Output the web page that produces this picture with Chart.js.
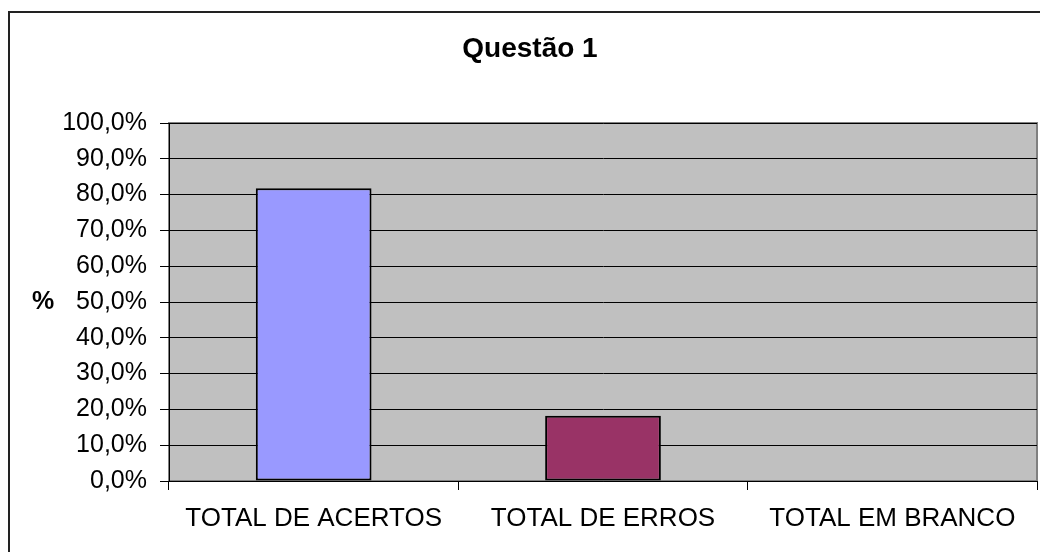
<!DOCTYPE html>
<html>
<head>
<meta charset="utf-8">
<title>Questão 1</title>
<script src="https://cdn.jsdelivr.net/npm/chart.js@4/dist/chart.umd.min.js"></script>
<style>
  html, body { margin: 0; padding: 0; background: #ffffff; }
  #wrap { position: relative; width: 1040px; height: 552px; overflow: hidden; }
  #frame { position: absolute; left: 8px; top: 11px; width: 1100px; height: 600px;
           border-left: 2px solid #222; border-top: 2px solid #222; }
  #chart { position: absolute; left: 0; top: 0; }
</style>
</head>
<body>
<div id="wrap">
  <div id="frame"></div>
  <canvas id="chart" width="1040" height="552"></canvas>
</div>
<script>
const chartTitle = 'Questão 1';
const axisLabel = '%';
const categories = ['TOTAL DE ACERTOS', 'TOTAL DE ERROS', 'TOTAL EM BRANCO'];
const percentages = [81.8, 18.2, 0];
const barColors = ['#9999FF', '#993366', '#FFFFCC'];
const yTicks = [0, 10, 20, 30, 40, 50, 60, 70, 80, 90, 100];

const FONT = "'Liberation Sans', Arial, sans-serif";

// Grey plot background with a thin darker frame; title and the horizontal "%" label
const plotDecor = {
  id: 'plotDecor',
  beforeDraw(chart) {
    const { ctx, chartArea: a } = chart;
    ctx.save();
    ctx.fillStyle = '#C0C0C0';
    ctx.fillRect(a.left, a.top, a.right - a.left, a.bottom - a.top);
    ctx.strokeStyle = '#808080';
    ctx.lineWidth = 2;
    ctx.strokeRect(a.left, a.top, a.right - a.left, a.bottom - a.top);
    ctx.restore();
  },
  afterDraw(chart) {
    const { ctx, chartArea: a } = chart;
    ctx.save();
    ctx.fillStyle = '#000';
    ctx.textAlign = 'center';
    ctx.textBaseline = 'middle';
    ctx.font = 'bold 28px ' + FONT;
    ctx.fillText(chartTitle, 530, 49);
    ctx.font = 'bold 25px ' + FONT;
    ctx.fillText(axisLabel, 43, (a.top + a.bottom) / 2);
    ctx.restore();
  }
};

new Chart(document.getElementById('chart'), {
  type: 'bar',
  data: {
    labels: categories,
    datasets: [{
      data: percentages,
      backgroundColor: barColors,
      borderColor: '#000',
      borderWidth: 2,
      borderSkipped: false,
      categoryPercentage: 1.0,
      barPercentage: 0.4
    }]
  },
  options: {
    responsive: false,
    animation: false,
    devicePixelRatio: 1,
    layout: { padding: { left: 0, right: 3, top: 123, bottom: 0 } },
    plugins: {
      legend: { display: false },
      tooltip: { enabled: false },
      title: { display: false }
    },
    scales: {
      x: {
        grid: { display: true, drawOnChartArea: false, drawTicks: true, tickLength: 9, color: '#000', lineWidth: 1, offset: true },
        border: { display: true, color: '#000', width: 1 },
        ticks: { color: '#000', font: { family: FONT, size: 26 }, padding: 13, maxRotation: 0, autoSkip: false },
        afterFit(scale) { scale.height = 71; }
      },
      y: {
        min: 0,
        max: 100,
        afterBuildTicks(scale) { scale.ticks = yTicks.map(v => ({ value: v })); },
        grid: { color: '#000', lineWidth: 1, tickLength: 9, drawTicks: true },
        border: { display: true, color: '#000', width: 1 },
        ticks: {
          color: '#000',
          font: { family: FONT, size: 25 },
          padding: 13,
          callback: v => v.toFixed(1).replace('.', ',') + '%'
        },
        afterFit(scale) { scale.width = 169; }
      }
    }
  },
  plugins: [plotDecor]
});
</script>
</body>
</html>
